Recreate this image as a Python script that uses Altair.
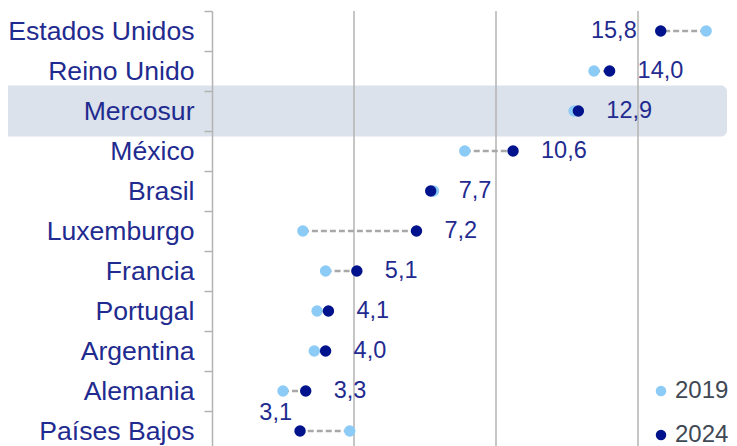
import altair as alt
import pandas as pd

categories = ["Estados Unidos", "Reino Unido", "Mercosur", "México", "Brasil",
              "Luxemburgo", "Francia", "Portugal", "Argentina", "Alemania", "Países Bajos"]
v2019 = [17.4, 13.45, 12.75, 8.9, 7.8, 3.2, 4.0, 3.7, 3.6, 2.5, 4.85]
v2024 = [15.8, 14.0, 12.9, 10.6, 7.7, 7.2, 5.1, 4.1, 4.0, 3.3, 3.1]
grid_values = [5, 10, 15]
highlight = ["Mercosur"]

NAVY = "#00138c"
LIGHT = "#8ccbf6"
TEXT = "#1f2b8f"
GRAY = "#b3b3b3"
FONT = "Liberation Sans"

wide = pd.DataFrame({"cat": categories, "v2019": v2019, "v2024": v2024})
wide["label"] = [f"{v:.1f}".replace(".", ",") for v in v2024]
wide["side"] = ["left" if c == "Estados Unidos" else ("above" if c == "Países Bajos" else "right")
                for c in categories]

long = pd.concat([
    pd.DataFrame({"cat": categories, "year": "2019", "value": v2019}),
    pd.DataFrame({"cat": categories, "year": "2024", "value": v2024}),
], ignore_index=True)

xscale = alt.Scale(domain=[0, 17.5], nice=False, zero=True)
yenc = alt.Y("cat:N", sort=categories,
             scale=alt.Scale(paddingInner=0, paddingOuter=0),
             axis=alt.Axis(title=None, labelFontSize=26.6, labelColor=TEXT, labelFont=FONT,
                           labelLimit=400,
                           tickSize=8, tickColor=GRAY, tickWidth=1.5,
                           domainColor=GRAY, domainWidth=1.5, labelPadding=10,
                           tickBand="extent", grid=False, zindex=1))

band = alt.Chart(pd.DataFrame({"cat": highlight})).mark_bar(
    color="#dbe2eb", height=51, cornerRadius=6
).encode(y=yenc, x=alt.value(-212), x2=alt.value(515))

grid = alt.Chart(pd.DataFrame({"g": grid_values})).mark_rule(
    color=GRAY, strokeWidth=1.5
).encode(x=alt.X("g:Q", scale=xscale, axis=None))

conn = alt.Chart(wide).mark_rule(
    color="#a8a8a8", strokeWidth=2.5, strokeDash=[6, 3]
).encode(y=yenc, x=alt.X("v2019:Q", scale=xscale, axis=None), x2="v2024:Q")

pts = alt.Chart(long).mark_circle(size=130, opacity=1).encode(
    y=yenc,
    x=alt.X("value:Q", scale=xscale, axis=None),
    color=alt.Color("year:N", scale=alt.Scale(domain=["2019", "2024"], range=[LIGHT, NAVY]),
                    legend=alt.Legend(title=None, orient="none", legendX=437, legendY=368,
                                      symbolType="circle", symbolSize=110,
                                      labelFontSize=24, labelFont=FONT, labelColor="#404854",
                                      labelOffset=2, rowPadding=20)),
)

base_text = alt.Chart(wide).encode(y=yenc, x=alt.X("v2024:Q", scale=xscale, axis=None),
                                   text="label:N")
txt_right = base_text.transform_filter(alt.datum.side == "right").mark_text(
    align="left", dx=28, fontSize=23.5, font=FONT, color=TEXT)
txt_left = base_text.transform_filter(alt.datum.side == "left").mark_text(
    align="right", dx=-24, fontSize=23.5, font=FONT, color=TEXT)
txt_above = base_text.transform_filter(alt.datum.side == "above").mark_text(
    align="right", baseline="alphabetic", dx=-8, dy=-11, fontSize=23.5, font=FONT, color=TEXT)

chart = alt.layer(band, grid, conn, pts, txt_right, txt_left, txt_above).properties(
    width=497, height=440,
    autosize=alt.AutoSizeParams(type="none"),
    padding={"left": 204, "top": 3, "right": 20, "bottom": 10},
).configure_view(stroke=None)

chart.save("out.html", embed_options={"renderer": "svg", "actions": False})
